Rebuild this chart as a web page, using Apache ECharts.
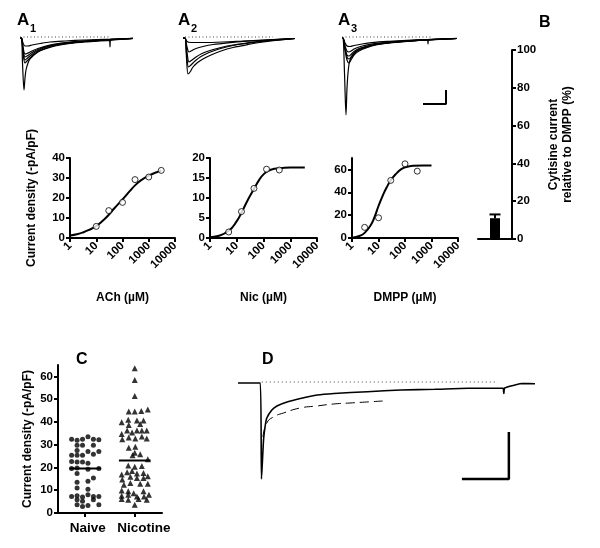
<!DOCTYPE html>
<html>
<head>
<meta charset="utf-8">
<script src="https://cdn.jsdelivr.net/npm/echarts@6/dist/echarts.min.js"></script>
<style>html,body{margin:0;padding:0;background:#fff}#c{width:600px;height:548px}</style>
</head>
<body>
<div id="c"></div>
<script>
// ---------------- DATA ----------------
// A1 traces (time, current) – ACh responses
const a1Traces = [
  [[0,0],[1.5,0],[2.5,-25],[4,-52],[5,-40],[6,-32],[8,-25],[10,-21],[13,-18],[18,-14],[25,-11],[35,-8],[50,-5.5],[65,-4],[80,-3],[89.5,-2.5],[90,-9],[90.5,-2.5],[100,-1.5],[113,-0.5]],
  [[0,0],[1.5,0],[3,-15],[5,-25],[7,-23],[10,-20],[13,-17],[18,-13.5],[25,-10.5],[35,-7.5],[50,-5],[65,-3.5],[80,-2.5],[100,-1.2],[113,-0.5]],
  [[0,0],[1.5,0],[3,-13],[5,-22],[7,-20.5],[10,-18],[13,-15.5],[18,-12.5],[25,-9.5],[35,-7],[50,-4.8],[65,-3.3],[80,-2.3],[100,-1.1],[113,-0.5]],
  [[0,0],[1.5,0],[3,-11],[5,-19],[7,-18],[10,-16],[13,-14],[18,-11.5],[25,-9],[35,-6.5],[50,-4.5],[65,-3.2],[80,-2.2],[100,-1],[113,-0.4]],
  [[0,0],[1.5,0],[3,-9],[5,-16],[7,-15.5],[10,-14],[13,-12.5],[18,-10.5],[25,-8.3],[35,-6],[50,-4.2],[65,-3],[80,-2],[100,-1],[113,-0.4]],
  [[0,0],[1.5,0],[3,-5],[5,-8],[8,-8],[12,-7],[20,-5.5],[30,-4],[45,-3],[65,-2],[90,-1.2],[113,-0.3]]
];
// A2 traces – nicotine responses
const a2Traces = [
  [[0,0],[2,0],[3.5,-20],[5,-36],[7,-34],[10,-29],[14,-25],[20,-21],[28,-17],[38,-13],[50,-9.5],[65,-6.5],[80,-4],[95,-2.2],[112,-0.5]],
  [[0,0],[2,0],[3.5,-15],[5.5,-29],[8,-27],[12,-23],[18,-18.5],[26,-14.5],[36,-11],[50,-7.5],[65,-5.2],[80,-3.3],[95,-1.9],[112,-0.5]],
  [[0,0],[2,0],[4,-14],[6,-24],[9,-22],[13,-19],[19,-15.5],[27,-12.5],[38,-9.5],[50,-7],[65,-4.8],[80,-3],[95,-1.7],[112,-0.5]],
  [[0,0],[2,0],[4,-9],[6,-14],[9,-12.5],[13,-10.5],[20,-8.5],[30,-6.5],[45,-4.8],[65,-3.2],[85,-2],[112,-0.5]],
  [[0,0],[2,0],[4,-3.5],[8,-4.5],[20,-4.5],[40,-4],[60,-3],[80,-2],[112,-0.5]]
];
// A3 traces – DMPP responses
const a3Traces = [
  [[0,0],[1,0],[2.5,-35],[4,-77],[5,-50],[6.5,-30],[8,-22],[11,-17],[15,-13],[22,-10],[32,-7],[45,-5],[60,-3.5],[80,-2.2],[85.5,-2],[86,-6],[86.5,-2],[100,-1.2],[115,-0.5]],
  [[0,0],[1,0],[3,-12],[5,-22],[7,-25],[9,-22],[12,-17],[17,-13],[24,-10],[34,-7],[48,-5],[65,-3.5],[85,-2],[115,-0.5]],
  [[0,0],[1,0],[3,-11],[5,-19],[7,-21],[9,-19],[12,-15],[17,-11.5],[24,-9],[34,-6.5],[48,-4.6],[65,-3.2],[85,-1.9],[115,-0.5]],
  [[0,0],[1,0],[3,-10],[5,-17],[7,-18],[9,-16.5],[12,-13.5],[17,-10.5],[24,-8.3],[34,-6],[48,-4.3],[65,-3],[85,-1.8],[115,-0.5]],
  [[0,0],[1,0],[3,-8],[5,-13],[7,-14],[9,-13],[12,-11],[17,-9],[24,-7.2],[34,-5.4],[48,-4],[65,-2.8],[85,-1.7],[115,-0.5]],
  [[0,0],[1,0],[3,-5],[5,-8],[8,-8.5],[12,-7.5],[20,-6],[30,-4.6],[45,-3.4],[65,-2.4],[85,-1.5],[115,-0.4]]
];
const aDotted = [[[0, 1], [90, 1]], [[2, 1], [90, 1]], [[0, 1], [90, 1]]];
const a3ScaleBar = [[81, -66], [104, -66], [104, -52]];

// B – cytisine relative to DMPP (%)
const bCategories = ['Cytisine'];
const bMean = [11];
const bSem = [2];

// Dose–response
const doseTicks = [1, 10, 100, 1000, 10000];
const agonists = ['ACh', 'Nic', 'DMPP'];
const achDose = [10, 30, 100, 300, 1000, 3000];
const achResp = [5.8, 13.7, 17.8, 29.2, 30.5, 33.8];
const achFitDose = [1, 2, 3, 5, 10, 20, 30, 50, 100, 200, 300, 500, 1000, 2000, 3000];
const achFitResp = [1.2, 2.0, 2.7, 3.9, 6.0, 9.3, 11.6, 15.0, 19.3, 23.8, 26.3, 28.8, 31.2, 32.9, 33.6];
const nicDose = [5, 15, 44, 130, 390];
const nicResp = [1.5, 6.6, 12.4, 17.2, 17.0];
const nicFitDose = [1, 2, 5, 10, 15, 20, 30, 45, 70, 100, 150, 250, 500, 1000, 3500];
const nicFitResp = [0.2, 0.5, 1.8, 4.2, 6.3, 8.0, 10.3, 12.4, 14.6, 15.9, 16.8, 17.3, 17.5, 17.6, 17.6];
const dmppDose = [3, 10, 29, 100, 290];
const dmppResp = [9.3, 17.7, 50.4, 64.9, 58.5];
const dmppFitDose = [1, 2, 3, 5, 7, 10, 15, 20, 30, 50, 70, 100, 200, 500, 1000];
const dmppFitResp = [0.3, 2, 4.5, 11, 18, 28, 38, 44, 51, 57, 60, 61.8, 63.2, 63.5, 63.5];

// C – current density, naive vs nicotine-treated
const groupLabels = ['Naive', 'Nicotine'];
const naiveVals = [32.4,32.0,32.4,33.5,32.4,32.2, 29.8,29.8,29.8, 27.4,27.0,27.0, 25.4,25.4,25.4,25.8, 22.6,22.4,22.4,21.8, 19.5,19.8,19.2,19.5, 17.3,15.4, 13.5,13.9, 11.0,10.4, 7.3,7.6,7.0,8.0,7.3,7.3, 5.8,5.2,5.8, 3.6,2.9,3.3,3.6];
const naiveCol  = [-2.5,-1.5,-0.5,0.5,1.5,2.5, -1.5,-0.5,1.5, -1.5,0.5,2.5, -2.5,-1.5,-0.5,1.5, -2.5,-1.5,-0.5,0.5, -2.5,-1.5,0.5,2.5, -1.5,1.5, -1.5,0.5, -1.5,0.5, -2.5,-1.5,-0.5,0.5,1.5,2.5, -1.5,-0.5,1.5, -1.5,-0.5,0.5,2.5];
const nicVals = [63.6,58.4,51.4, 44.6,44.6,44.8,45.5, 39.9,40.9,40.6,40.6, 38.7,39.1, 34.7,36.2,35.4,36.2,36.2,36.2, 32.4,33.2,32.7,33.6,32.7, 28.7,29.1, 26.5, 25.4,25.8, 23.6, 20.9,20.3,20.6, 16.9,17.9,18.4,17.3,17.6, 14.7,15.9,15.4,15.4,16.1, 12.4,13.2,12.9,12.9, 9.9,9.5,8.7,9.5, 7.6,8.0,7.3,7.3,8.0, 6.1,5.8,6.1,5.8, 3.6];
const nicCol  = [0,0,0, -1.1,0,1.2,2.4, -2.4,-1.2,0.4,1.6, -1.1,1.0, -2.4,-1.4,-0.5,0.4,1.3,2.2, -2.3,-1.1,0.1,1.3,2.2, -1.1,0.1, 0, -0.4,1.0, 2.4, -1.2,0,1.3, -2.4,-1.4,-0.5,0.4,1.6, -2.3,-0.8,0.4,1.6,2.4, -2.0,-0.8,1.0,2.4, -2.4,-1.2,-0.2,1.6, -2.4,-1.2,0.4,1.7,2.6, -2.4,-1.2,0.7,2.2, 0];
const groupMedians = [19.5, 23.1];

// D – single response with fit
const dT = [0, 7.5, 7.9, 8.6, 9.2, 9.7, 11.4, 13.1, 16.5, 21, 26.7, 32.3, 43.6, 54.9, 66.2, 77.5, 88.8, 89.3, 89.5, 89.8, 93.3, 95.6, 100];
const dI = [-0.01, -0.01, -0.97, -0.58, -0.43, -0.36, -0.28, -0.24, -0.20, -0.165, -0.13, -0.115, -0.097, -0.08, -0.073, -0.063, -0.063, -0.063, -0.115, -0.06, -0.03, -0.015, -0.017];
const dashT = [8.4, 9.7, 11.9, 15.3, 20.9, 26.5, 32.1, 37.7, 43.3, 48.7];
const dashI = [-0.55, -0.41, -0.35, -0.31, -0.26, -0.24, -0.22, -0.21, -0.20, -0.19];
const dDotted = [[8, 0], [87.5, 0]];
const dScaleBar = [[75.4, -0.97], [91.2, -0.97], [91.2, -0.5]];

// ---------------- CHART ----------------
const FONT = '"Liberation Sans", Arial, sans-serif';
const BLK = '#000';
const zip = (a, b) => a.map((v, i) => [v, b[i]]);

const grids = [
  {left: 20, top: 33, width: 115, height: 85},   // 0 A1
  {left: 183, top: 33, width: 115, height: 85},  // 1 A2
  {left: 342, top: 33, width: 115, height: 85},  // 2 A3
  {left: 478, top: 50, width: 34, height: 189},  // 3 B
  {left: 70, top: 158, width: 105, height: 80},  // 4 DR ACh
  {left: 210, top: 158, width: 107, height: 80}, // 5 DR Nic
  {left: 352, top: 158, width: 106, height: 80}, // 6 DR DMPP
  {left: 58, top: 365, width: 104, height: 148}, // 7 C
  {left: 238, top: 372, width: 297, height: 110} // 8 D
];

const axLine = {show: true, lineStyle: {color: BLK, width: 2}};
const axTick = {show: true, length: 4, lineStyle: {color: BLK, width: 2}};
const lblStyle = {color: BLK, fontFamily: FONT, fontWeight: 'bold', fontSize: 11.5};
const nameStyle = {color: BLK, fontFamily: FONT, fontWeight: 'bold', fontSize: 12};

const xAxes = [], yAxes = [];
// A panels (hidden)
[0, 1, 2].forEach(g => {
  xAxes.push({gridIndex: g, type: 'value', min: 0, max: 115, show: false});
  yAxes.push({gridIndex: g, type: 'value', min: -80, max: 5, show: false});
});
// B
xAxes.push({gridIndex: 3, type: 'category', data: bCategories, axisLine: axLine, axisTick: {show: false}, axisLabel: {show: false}});
yAxes.push({gridIndex: 3, type: 'value', position: 'right', min: 0, max: 100, interval: 20,
  axisLine: axLine, axisTick: axTick, splitLine: {show: false},
  axisLabel: Object.assign({margin: 5}, lblStyle),
  name: 'Cytisine current\nrelative to DMPP (%)', nameLocation: 'middle', nameRotate: 90, nameGap: 49,
  nameTextStyle: Object.assign({lineHeight: 14, verticalAlign: 'middle'}, nameStyle)});
// Dose-response axes
const drMax = [40, 20, 70];
const drInt = [10, 5, 20];
const drTicks = [[0,10,20,30,40],[0,5,10,15,20],[0,20,40,60]];
[4, 5, 6].forEach((g, i) => {
  xAxes.push({gridIndex: g, type: 'log', logBase: 10, min: 1, max: 10000,
    axisLine: axLine, axisTick: Object.assign({customValues: doseTicks}, axTick), splitLine: {show: false},
    axisLabel: Object.assign({rotate: 45, margin: 6, customValues: doseTicks, formatter: v => String(Math.round(v))}, lblStyle),
    name: agonists[i] + ' (\u00b5M)', nameLocation: 'middle', nameGap: 54, nameTextStyle: nameStyle});
  yAxes.push(Object.assign({gridIndex: g, type: 'value', min: 0, max: drMax[i], interval: drInt[i],
    axisLine: axLine, axisTick: Object.assign({customValues: drTicks[i]}, axTick), splitLine: {show: false},
    axisLabel: Object.assign({margin: 5, customValues: drTicks[i]}, lblStyle)},
    i === 0 ? {name: 'Current density (-pA/pF)', nameLocation: 'middle', nameGap: 32, nameTextStyle: nameStyle} : {}));
});
// C axes
xAxes.push({gridIndex: 7, type: 'value', min: 0.45, max: 2.55,
  axisLine: axLine, axisTick: Object.assign({customValues: [1, 2]}, axTick), splitLine: {show: false},
  axisLabel: Object.assign({}, lblStyle, {fontSize: 13.5, margin: 8, customValues: [1, 2],
    formatter: v => (Math.round(v) === 1 ? '{n|' : '{t|') + groupLabels[Math.round(v) - 1] + '}',
    rich: {n: {fontFamily: FONT, fontWeight: 'bold', fontSize: 13.5, color: BLK, padding: [0, 0, 0, 5]},
           t: {fontFamily: FONT, fontWeight: 'bold', fontSize: 13.5, color: BLK, padding: [0, 0, 0, 18]}}})});
yAxes.push({gridIndex: 7, type: 'value', min: 0, max: 65, interval: 10,
  axisLine: axLine, axisTick: Object.assign({customValues: [0,10,20,30,40,50,60]}, axTick), splitLine: {show: false},
  axisLabel: Object.assign({margin: 5, customValues: [0,10,20,30,40,50,60]}, lblStyle),
  name: 'Current density (-pA/pF)', nameLocation: 'middle', nameGap: 24, nameTextStyle: nameStyle});
// D axes (hidden)
xAxes.push({gridIndex: 8, type: 'value', min: 0, max: 100, show: false});
yAxes.push({gridIndex: 8, type: 'value', min: -1.0, max: 0.1, show: false});

const series = [];
const traceLine = (xi, data, w) => ({type: 'line', xAxisIndex: xi, yAxisIndex: xi, data: data, showSymbol: false,
  symbol: 'none', smooth: 0.3, lineStyle: {color: BLK, width: w || 1}, silent: true, z: 3});
[a1Traces, a2Traces, a3Traces].forEach((set, gi) => {
  set.forEach(tr => series.push(traceLine(gi, tr, 1.2)));
  series.push({type: 'line', xAxisIndex: gi, yAxisIndex: gi, data: aDotted[gi], showSymbol: false,
    symbol: 'none', lineStyle: {color: '#444', width: 1, type: [1, 2.5]}, silent: true});
});
series.push({type: 'line', xAxisIndex: 2, yAxisIndex: 2, data: a3ScaleBar, symbol: 'none', showSymbol: false,
  lineStyle: {color: BLK, width: 2}, silent: true});

// B bar + error bar
series.push({type: 'bar', xAxisIndex: 3, yAxisIndex: 3, data: bMean, barWidth: 10, itemStyle: {color: BLK}, silent: true});
series.push({type: 'custom', xAxisIndex: 3, yAxisIndex: 3, silent: true, z: 5,
  data: bMean.map((m, i) => [i, m, m + bSem[i]]),
  renderItem: (params, api) => {
    const p0 = api.coord([api.value(0), api.value(1)]);
    const p1 = api.coord([api.value(0), api.value(2)]);
    return {type: 'group', children: [
      {type: 'line', shape: {x1: p0[0], y1: p0[1], x2: p1[0], y2: p1[1]}, style: {stroke: BLK, lineWidth: 2}},
      {type: 'line', shape: {x1: p1[0] - 5.5, y1: p1[1], x2: p1[0] + 5.5, y2: p1[1]}, style: {stroke: BLK, lineWidth: 2}}
    ]};
  }});

// Dose-response curves and points
const drData = [[achFitDose, achFitResp, achDose, achResp], [nicFitDose, nicFitResp, nicDose, nicResp], [dmppFitDose, dmppFitResp, dmppDose, dmppResp]];
drData.forEach((d, i) => {
  const ai = 4 + i;
  series.push({type: 'line', xAxisIndex: ai, yAxisIndex: ai, data: zip(d[0], d[1]), smooth: true, showSymbol: false,
    symbol: 'none', lineStyle: {color: BLK, width: 2}, silent: true, z: 3});
  series.push({type: 'scatter', xAxisIndex: ai, yAxisIndex: ai, data: zip(d[2], d[3]), symbol: 'circle', symbolSize: 6,
    itemStyle: {color: '#fff', borderColor: BLK, borderWidth: 1}, silent: true, z: 4});
});

// C scatter
const COLW = 0.11;
series.push({type: 'scatter', xAxisIndex: 7, yAxisIndex: 7, symbol: 'circle', symbolSize: 5,
  data: naiveVals.map((v, i) => [1 + naiveCol[i] * COLW, v]), itemStyle: {color: BLK}, silent: true});
series.push({type: 'scatter', xAxisIndex: 7, yAxisIndex: 7, symbol: 'triangle', symbolSize: 6,
  data: nicVals.map((v, i) => [2 + nicCol[i] * COLW, v]), itemStyle: {color: BLK}, silent: true});
groupMedians.forEach((m, i) => {
  series.push({type: 'line', xAxisIndex: 7, yAxisIndex: 7, data: [[i + 1 - 0.32, m], [i + 1 + 0.32, m]],
    symbol: 'none', showSymbol: false, lineStyle: {color: BLK, width: 2}, silent: true, z: 5});
});

// D
series.push({type: 'line', xAxisIndex: 8, yAxisIndex: 8, data: zip(dT, dI), symbol: 'none', showSymbol: false,
  smooth: 0.2, lineStyle: {color: BLK, width: 1.6}, silent: true, z: 4});
series.push({type: 'line', xAxisIndex: 8, yAxisIndex: 8, data: zip(dashT, dashI), symbol: 'none', showSymbol: false,
  smooth: true, lineStyle: {color: BLK, width: 1, type: [9, 5]}, silent: true});
series.push({type: 'line', xAxisIndex: 8, yAxisIndex: 8, data: dDotted, symbol: 'none', showSymbol: false,
  lineStyle: {color: '#444', width: 1, type: [1, 3]}, silent: true});
series.push({type: 'line', xAxisIndex: 8, yAxisIndex: 8, data: dScaleBar, symbol: 'none', showSymbol: false,
  lineStyle: {color: BLK, width: 2.5}, silent: true});

const panelText = (txt, x, y, size) => ({type: 'text', left: x, top: y, silent: true,
  style: {text: txt, fill: BLK, font: 'bold ' + size + 'px ' + FONT}});
const graphic = [
  panelText('A', 17, 12, 17), panelText('1', 30, 23, 11),
  panelText('A', 178, 12, 17), panelText('2', 191, 23, 11),
  panelText('A', 338, 12, 17), panelText('3', 351, 23, 11),
  panelText('B', 539, 15, 16),
  panelText('C', 76, 352, 16),
  panelText('D', 262, 352, 16)
];

const chart = echarts.init(document.getElementById('c'), null, {renderer: 'canvas'});
chart.setOption({
  animation: false,
  backgroundColor: '#fff',
  textStyle: {fontFamily: FONT},
  grid: grids,
  xAxis: xAxes,
  yAxis: yAxes,
  series: series,
  graphic: graphic
});
</script>
</body>
</html>
